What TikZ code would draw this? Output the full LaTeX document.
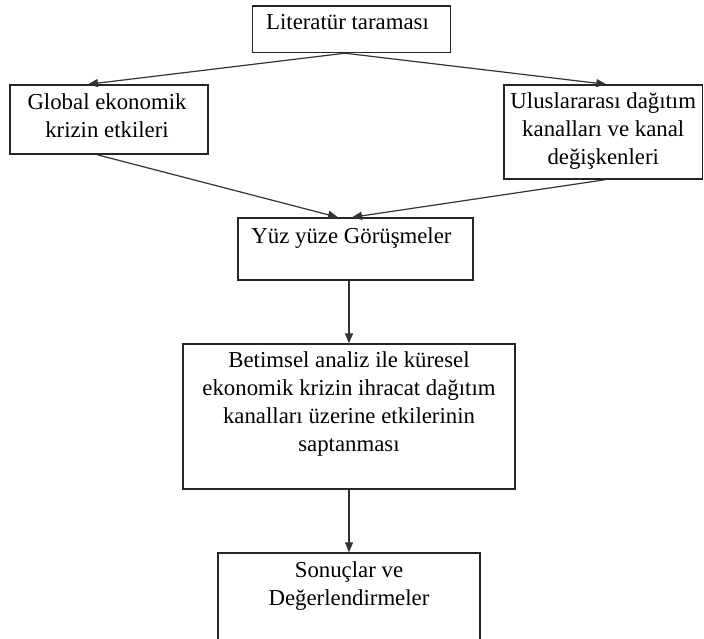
\documentclass[tikz,border=0pt]{standalone}
\usepackage{fontspec}
\setmainfont{Liberation Serif}
\usetikzlibrary{arrows.meta,calc}
\begin{document}
\begin{tikzpicture}[x=1pt,y=-1pt,
  stage/.style={draw=black!85,line width=1.4pt,inner sep=0pt,rectangle},
  caption/.style={anchor=north,inner sep=0pt,align=center,
    font=\fontsize{22.8}{28}\selectfont},
  flow/.style={draw=black!80,line width=1.2pt,-{Triangle[length=10pt,width=8pt]}}]
  \clip (0,0) rectangle (704,638);
  \fill[white] (0,0) rectangle (704,638);

  % boxes
  \node[stage,minimum width=198pt,minimum height=46.5pt] (lit)  at (351.5,29.25) {};
  \node[stage,minimum width=198pt,minimum height=69pt]   (glob) at (109,119.5) {};
  \node[stage,minimum width=198.5pt,minimum height=94pt] (ulus) at (603.25,132) {};
  \node[stage,minimum width=235pt,minimum height=62pt]   (yuz)  at (355.5,249) {};
  \node[stage,minimum width=332pt,minimum height=145pt]  (bet)  at (349,416.5) {};
  \node[stage,minimum width=262pt,minimum height=110pt]  (son)  at (349,608) {};

  % texts, set at the top of each box
  \node[caption] (litT)  at ([xshift=-4pt,yshift=-9pt]lit.north)  {Literatür taraması};
  \node[caption] (globT) at ([xshift=-2pt,yshift=-9pt]glob.north) {Global ekonomik\\krizin etkileri};
  \node[caption] (ulusT) at ([yshift=-8pt]ulus.north) {Uluslararası dağıtım\\kanalları ve kanal\\değişkenleri};
  \node[caption] (yuzT)  at ([xshift=-4pt,yshift=-10pt]yuz.north)  {Yüz yüze Görüşmeler};
  \node[caption] (betT)  at ([yshift=-8pt]bet.north)  {Betimsel analiz ile küresel\\ekonomik krizin ihracat dağıtım\\kanalları üzerine etkilerinin\\saptanması};
  \node[caption] (sonT)  at ([yshift=-9pt]son.north)  {Sonuçlar ve\\Değerlendirmeler};

  % connectors
  \draw[flow] ([xshift=-6.5pt]lit.south) -- ([xshift=-21pt]glob.north);
  \draw[flow] ([xshift=-6.5pt]lit.south) -- ([xshift=3pt]ulus.north);
  \draw[flow] ([xshift=-12pt]glob.south) -- ([xshift=-17.5pt]yuz.north);
  \draw[flow] ([xshift=2pt]ulus.south) -- ([xshift=-3.5pt]yuz.north);
  \draw[flow] ([xshift=-6.5pt]yuz.south) -- (bet.north);
  \draw[flow] (bet.south) -- (son.north);
\end{tikzpicture}
\end{document}
